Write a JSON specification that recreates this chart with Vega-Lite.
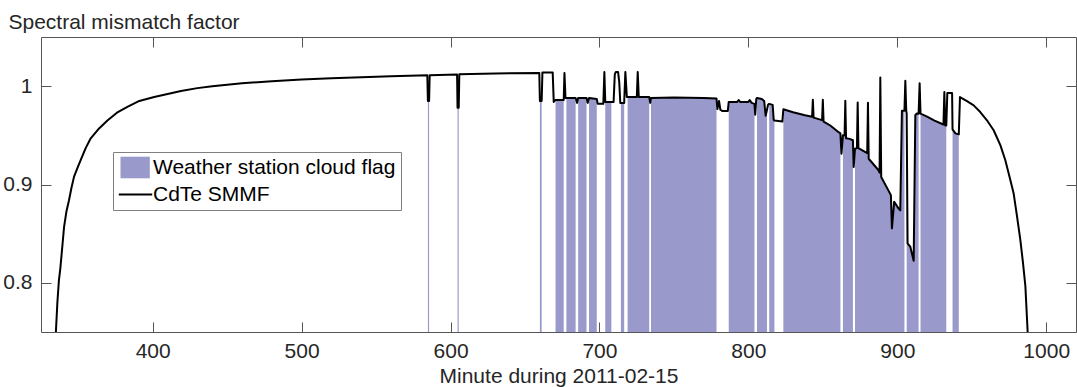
{
  "$schema": "https://vega.github.io/schema/vega-lite/v6.json",
  "width": 1035,
  "height": 295,
  "autosize": "none",
  "padding": {"left": 41, "top": 37, "right": 1, "bottom": 55},
  "background": "white",
  "config": {
    "view": {"stroke": "#555555", "strokeWidth": 1},
    "axis": {
      "labelFont": "Liberation Sans", "labelFontSize": 21, "labelColor": "#262626",
      "titleFont": "Liberation Sans", "titleFontSize": 21, "titleFontWeight": "normal", "titleColor": "#262626",
      "tickColor": "#555555", "tickSize": -10, "tickWidth": 1, "domain": false, "grid": false
    },
    "legend": {
      "orient": "none", "legendX": 72, "legendY": 115,
      "labelFont": "Liberation Sans", "labelFontSize": 21, "labelColor": "#000000", "labelLimit": 600,
      "symbolSize": 400, "labelOffset": 14, "padding": 5, "rowPadding": 4,
      "strokeColor": "#808080", "fillColor": "#ffffff", "symbolOpacity": 1, "symbolStrokeWidth": 0
    }
  },
  "data": {"values": [
    {"m":334,"s":0.72},{"m":335,"s":0.75},{"m":336,"s":0.78},{"m":337,"s":0.802},{"m":338,"s":0.815},
    {"m":339.5,"s":0.84},{"m":340.5,"s":0.857},{"m":342,"s":0.872},{"m":343.8,"s":0.884},{"m":345.5,"s":0.897},
    {"m":347.2,"s":0.908},{"m":349.5,"s":0.917},{"m":351.7,"s":0.925},{"m":355,"s":0.937},{"m":358.4,"s":0.947},
    {"m":364,"s":0.957},{"m":369.6,"s":0.965},{"m":376,"s":0.973},{"m":383,"s":0.979},{"m":391,"s":0.985},
    {"m":401,"s":0.989},{"m":410,"s":0.992},{"m":419,"s":0.995},{"m":430,"s":0.998},{"m":440,"s":1.0},
    {"m":460,"s":1.003},{"m":480,"s":1.005},{"m":500,"s":1.0068},{"m":520,"s":1.008},{"m":540,"s":1.009},
    {"m":560,"s":1.010},{"m":584.4,"s":1.011},
    {"m":584.8,"s":0.985,"b":"a"},{"m":585.6,"s":0.985,"b":"a"},
    {"m":586.0,"s":1.011},{"m":604.4,"s":1.0118},
    {"m":604.7,"s":0.978,"b":"b"},{"m":605.5,"s":0.978,"b":"b"},
    {"m":605.9,"s":1.012},{"m":630,"s":1.013},{"m":659.6,"s":1.0135},
    {"m":660.0,"s":0.985,"b":"c"},{"m":661.2,"s":0.985,"b":"c"},
    {"m":661.7,"s":1.014},{"m":668.6,"s":1.014},{"m":669.3,"s":0.984},
    {"m":670.5,"s":0.986,"b":"d"},{"m":676.0,"s":0.986,"b":"d"},
    {"m":676.5,"s":1.0135},{"m":677.2,"s":0.988},
    {"m":677.8,"s":0.988,"b":"e"},{"m":684.0,"s":0.988,"b":"e"},
    {"m":685.0,"s":0.983},
    {"m":685.7,"s":0.988,"b":"f"},{"m":691.3,"s":0.988,"b":"f"},
    {"m":692.1,"s":0.983},
    {"m":693.0,"s":0.988,"b":"g"},{"m":698.2,"s":0.987,"b":"g"},
    {"m":698.8,"s":0.982},{"m":702.6,"s":0.982},{"m":703.3,"s":1.0145},
    {"m":703.9,"s":0.984,"b":"h"},{"m":708.0,"s":0.984,"b":"h"},
    {"m":709.5,"s":0.984},{"m":710.3,"s":1.012},{"m":711.0,"s":1.0145},{"m":712.5,"s":1.0145},{"m":713.3,"s":1.004},{"m":714.0,"s":0.983},
    {"m":714.4,"s":0.983,"b":"i"},{"m":716.6,"s":0.983,"b":"i"},
    {"m":717.4,"s":1.0145},{"m":718.4,"s":0.989},
    {"m":718.9,"s":0.989,"b":"j"},{"m":725.1,"s":0.989,"b":"j"},{"m":725.7,"s":1.0145,"b":"j"},{"m":726.4,"s":0.989,"b":"j"},{"m":733.4,"s":0.989,"b":"j"},
    {"m":734.1,"s":0.983},
    {"m":734.6,"s":0.988,"b":"k"},{"m":750,"s":0.9885,"b":"k"},{"m":770,"s":0.988,"b":"k"},{"m":778.6,"s":0.9875,"b":"k"},
    {"m":779.2,"s":0.9767},{"m":780.3,"s":0.985},{"m":781.2,"s":0.976},{"m":782.4,"s":0.9748},{"m":786.2,"s":0.9748},
    {"m":786.8,"s":0.984,"b":"l"},{"m":792.5,"s":0.984,"b":"l"},{"m":793.5,"s":0.9858,"b":"l"},{"m":794.5,"s":0.984,"b":"l"},
    {"m":800.0,"s":0.984,"b":"l"},{"m":800.9,"s":0.9858,"b":"l"},{"m":802.2,"s":0.983,"b":"l"},{"m":804.1,"s":0.982,"b":"l"},
    {"m":804.6,"s":0.971},{"m":805.3,"s":0.987},
    {"m":805.8,"s":0.988,"b":"m"},{"m":809.0,"s":0.987,"b":"m"},{"m":810.6,"s":0.985,"b":"m"},{"m":811.6,"s":0.970,"b":"m"},{"m":812.5,"s":0.976,"b":"m"},
    {"m":813.2,"s":0.981},
    {"m":814.0,"s":0.982,"b":"n"},{"m":816.3,"s":0.981,"b":"n"},{"m":817.0,"s":0.966,"b":"n"},{"m":817.5,"s":0.965,"b":"n"},
    {"m":822.8,"s":0.964},
    {"m":823.5,"s":0.9765,"b":"o"},{"m":830,"s":0.9735,"b":"o"},{"m":838,"s":0.9705,"b":"o"},{"m":842.8,"s":0.969,"b":"o"},
    {"m":843.3,"s":0.9862,"b":"o"},{"m":843.8,"s":0.968,"b":"o"},{"m":849.5,"s":0.9655,"b":"o"},{"m":850.0,"s":0.9862,"b":"o"},
    {"m":850.5,"s":0.964,"b":"o"},{"m":855,"s":0.960,"b":"o"},{"m":860.6,"s":0.9532,"b":"o"},{"m":861.8,"s":0.952,"b":"o"},
    {"m":862.5,"s":0.9313},
    {"m":863.5,"s":0.950,"b":"p"},{"m":864.6,"s":0.950,"b":"p"},{"m":865.1,"s":0.9852,"b":"p"},{"m":865.6,"s":0.9471,"b":"p"},
    {"m":868.0,"s":0.9464,"b":"p"},{"m":870.2,"s":0.945,"b":"p"},
    {"m":870.7,"s":0.9178},
    {"m":871.6,"s":0.9363,"b":"q"},{"m":872.9,"s":0.937,"b":"q"},{"m":873.4,"s":0.9835,"b":"q"},{"m":873.9,"s":0.937,"b":"q"},
    {"m":879.8,"s":0.932,"b":"q"},{"m":880.3,"s":0.9831,"b":"q"},{"m":880.8,"s":0.9262,"b":"q"},{"m":887.4,"s":0.9145,"b":"q"},
    {"m":888.1,"s":0.912,"b":"q"},{"m":888.6,"s":1.0088,"b":"q"},{"m":889.2,"s":0.9077,"b":"q"},{"m":895.7,"s":0.8892,"b":"q"},
    {"m":896.4,"s":0.8554,"b":"q"},{"m":897.9,"s":0.8825,"b":"q"},{"m":900.8,"s":0.8757,"b":"q"},{"m":902.0,"s":0.8737,"b":"q"},
    {"m":903.1,"s":0.9751,"b":"q"},{"m":904.8,"s":0.975,"b":"q"},
    {"m":905.4,"s":1.0054},{"m":906.0,"s":0.975},
    {"m":906.3,"s":0.972,"b":"r"},{"m":906.9,"s":0.8402,"b":"r"},{"m":908.7,"s":0.8369,"b":"r"},{"m":911.0,"s":0.8224,"b":"r"},
    {"m":912.1,"s":0.9705,"b":"r"},{"m":913.0,"s":0.9722,"b":"r"},{"m":914.3,"s":0.972,"b":"r"},
    {"m":915.0,"s":1.003},
    {"m":915.6,"s":0.972,"b":"s"},{"m":920,"s":0.969,"b":"s"},{"m":925,"s":0.965,"b":"s"},{"m":931.0,"s":0.961,"b":"s"},
    {"m":931.6,"s":0.994,"b":"s"},{"m":932.2,"s":0.960,"b":"s"},{"m":932.9,"s":0.960,"b":"s"},
    {"m":933.6,"s":0.993},{"m":936.8,"s":0.993},
    {"m":937.1,"s":0.956,"b":"t"},{"m":939.0,"s":0.952,"b":"t"},{"m":941.3,"s":0.951,"b":"t"},
    {"m":942.1,"s":0.9889},{"m":946.8,"s":0.9848},{"m":951.3,"s":0.9805},{"m":955.7,"s":0.9737},{"m":960.2,"s":0.9653},
    {"m":964.7,"s":0.9552},{"m":969.2,"s":0.940},{"m":972.5,"s":0.9249},{"m":975.9,"s":0.9047},{"m":978.1,"s":0.8912},
    {"m":980.4,"s":0.8675},{"m":982.6,"s":0.844},{"m":984.4,"s":0.8204},{"m":986.0,"s":0.7968},{"m":987.5,"s":0.751},
    {"m":988.0,"s":0.72}
  ]},
  "layer": [
    {
      "transform": [{"filter": "datum.b != null"}],
      "mark": {"type": "area", "clip": true, "opacity": 1, "fillOpacity": 1},
      "encoding": {
        "x": {"field": "m", "type": "quantitative",
          "scale": {"domain": [325, 1020], "nice": false, "zero": false},
          "axis": {"orient": "top", "labels": false, "title": null, "values": [400, 500, 600, 700, 800, 900, 1000]}},
        "y": {"field": "s", "type": "quantitative",
          "scale": {"domain": [0.75, 1.05], "nice": false, "zero": false},
          "axis": {"orient": "right", "labels": false, "title": null, "values": [0.8, 0.9, 1]}},
        "y2": {"datum": 0.75},
        "detail": {"field": "b", "type": "nominal"},
        "color": {"datum": "Weather station cloud flag", "type": "nominal",
          "scale": {"domain": ["Weather station cloud flag", "CdTe SMMF"], "range": ["#9999cc", "#000000"]},
          "legend": {"title": null}}
      }
    },
    {
      "mark": {"type": "line", "clip": true, "strokeWidth": 2, "strokeJoin": "round", "color": "#000000"},
      "encoding": {
        "x": {"field": "m", "type": "quantitative",
          "scale": {"domain": [325, 1020], "nice": false, "zero": false},
          "axis": {"orient": "bottom", "title": "Minute during 2011-02-15", "values": [400, 500, 600, 700, 800, 900, 1000],
            "format": "d", "labelPadding": 18.5, "titleY": 50, "titleBaseline": "alphabetic"}},
        "y": {"field": "s", "type": "quantitative",
          "scale": {"domain": [0.75, 1.05], "nice": false, "zero": false},
          "axis": {"orient": "left", "title": "Spectral mismatch factor", "values": [0.8, 0.9, 1], "format": "~g",
            "labelPadding": 19, "titleAngle": 0, "titleAlign": "left", "titleBaseline": "alphabetic", "titleX": -33, "titleY": -9}}
      }
    },
    {
      "transform": [{"filter": "datum.m < 0"}],
      "mark": {"type": "point", "filled": true, "opacity": 1},
      "encoding": {
        "x": {"field": "m", "type": "quantitative", "axis": null},
        "y": {"field": "s", "type": "quantitative", "axis": null},
        "color": {"datum": "CdTe SMMF", "type": "nominal", "legend": {"title": null}},
        "shape": {"datum": "CdTe SMMF", "type": "nominal",
          "scale": {"domain": ["Weather station cloud flag", "CdTe SMMF"],
            "range": ["M-0.8,-1.08H2.13V1.08H-0.8Z", "M-0.97,-0.1H2.37V0.1H-0.97Z"]},
          "legend": {"title": null}}
      }
    }
  ]
}
